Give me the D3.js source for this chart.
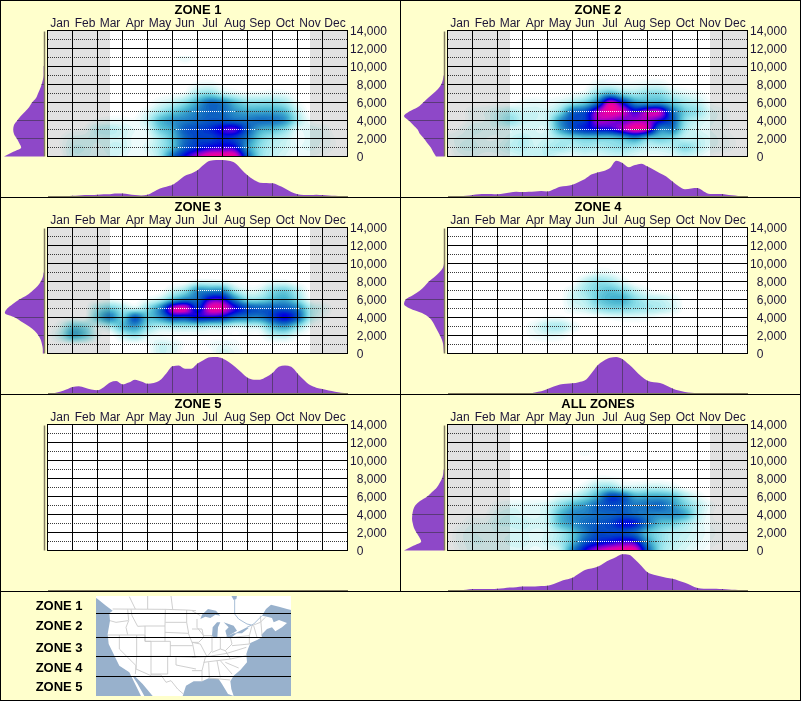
<!DOCTYPE html>
<html><head><meta charset="utf-8">
<script src="https://cdn.jsdelivr.net/npm/d3@7"></script>
<style>html,body{margin:0;padding:0;background:#FFFFCC}svg{display:block}text{font-family:"Liberation Sans",Arial,sans-serif}</style>
</head><body><svg id="c" width="801" height="701"></svg>
<script>
const months=["Jan","Feb","Mar","Apr","May","Jun","Jul","Aug","Sep","Oct","Nov","Dec"];
const elevTicks=[0,2000,4000,6000,8000,10000,12000,14000];
const dottedTicks=[1000,3000,5000,7000,9000,11000,13000];
const zoneNames=["ZONE 1","ZONE 2","ZONE 3","ZONE 4","ZONE 5"];
// Heat: rows bottom-up every 1000 ft; columns every half month (Jan 1 ... Dec end); intensity 0-100
const heatZ1=[
[0,0,7,7,4,6,5,2,4,15,50,72,88,100,100,98,55,20,10,6,2,2,1,0,0],
[0,1,8,8,5,8,8,3,6,15,30,55,65,72,75,72,40,20,12,8,4,5,3,1,0],
[0,1,5,6,7,8,7,3,4,15,30,50,60,60,65,60,45,25,15,10,3,5,4,1,0],
[0,0,1,2,10,12,8,4,6,25,35,55,60,65,75,78,55,35,30,20,5,6,4,0,0],
[0,0,0,0,2,3,3,2,10,30,40,45,50,55,55,50,48,50,48,40,15,2,0,0,0],
[0,0,0,0,0,0,0,0,5,15,25,35,45,52,50,40,35,35,35,30,10,0,0,0,0],
[0,0,0,0,0,0,0,0,0,5,10,20,35,50,45,30,20,20,20,15,3,0,0,0,0],
[0,0,0,0,0,0,0,0,0,0,1,3,15,20,10,5,3,3,4,3,0,0,0,0,0],
[0,0,0,0,0,0,0,0,0,0,0,0,3,4,1,0,0,0,0,0,0,0,0,0,0],
[0,0,0,0,0,0,0,0,0,0,0,0,0,0,0,0,0,0,0,0,0,0,0,0,0],
[0,0,0,0,0,0,0,0,0,0,0,0,0,0,0,0,0,0,0,0,0,0,0,0,0],
[0,0,0,0,0,0,0,0,0,0,0,4,0,0,0,0,0,0,0,0,0,0,0,0,0]];
const heatZ2=[
[0,3,4,3,3,5,8,8,10,5,4,6,5,7,8,5,3,3,5,8,5,1,0,0,0],
[0,6,7,5,6,10,12,8,12,15,12,15,13,16,18,15,10,10,12,20,12,5,3,1,0],
[3,5,6,4,4,8,12,7,9,15,20,25,25,25,30,40,25,25,20,10,10,6,3,1,0],
[0,2,6,6,5,6,6,6,8,35,55,65,70,72,85,97,88,45,45,15,7,4,2,0,0],
[0,0,3,4,10,18,10,8,10,40,58,62,85,85,80,85,85,72,55,20,10,5,3,0,0],
[0,0,3,4,8,12,8,8,8,20,50,58,85,98,92,75,88,88,50,25,18,6,3,0,0],
[0,0,0,0,0,0,3,4,3,7,15,25,48,92,68,40,35,35,25,15,10,2,0,0,0],
[0,0,0,0,0,0,0,0,0,0,2,5,20,32,20,15,20,20,10,5,3,0,0,0,0],
[0,0,0,0,0,0,0,0,0,0,0,0,5,5,3,3,5,5,1,0,0,0,0,0,0]];
const heatZ3=[
[0,0,0,0,0,0,0,0,0,8,6,0,0,0,8,4,0,0,0,0,0,0,0,0,0],
[0,0,0,0,0,0,0,0,1,8,6,1,0,2,4,2,0,0,0,0,0,0,0,0,0],
[0,10,35,25,4,0,10,18,6,2,1,1,1,1,1,1,1,1,10,12,3,0,0,0,0],
[0,5,25,20,5,13,30,39,20,12,15,15,15,12,12,6,8,10,30,38,20,3,0,0,0],
[0,0,0,1,25,45,25,55,30,40,60,60,70,70,65,50,45,45,60,72,55,15,3,0,0],
[0,0,0,0,15,25,15,8,20,45,90,95,65,95,95,75,60,55,55,55,45,15,6,0,0],
[0,0,0,0,0,2,0,0,3,10,30,45,50,75,75,45,20,20,30,35,20,2,0,0,0],
[0,0,0,0,0,0,0,0,0,0,8,18,41,42,41,15,5,7,20,25,12,0,0,0,0],
[0,0,0,0,0,0,0,0,0,0,0,0,5,5,4,1,0,0,3,3,0,0,0,0,0]];
const heatZ4=[
[0,0,0,0,0,0,0,0,0,0,0,0,0,0,0,0,0,0,0,0,0,0,0,0,0],
[0,0,0,0,0,0,0,0,0,0,0,0,0,0,0,0,0,0,0,0,0,0,0,0,0],
[0,0,0,0,0,0,0,3,5,4,0,0,0,0,0,0,0,0,0,0,0,0,0,0,0],
[0,0,0,0,0,0,0,5,12,13,5,0,0,0,0,0,0,0,0,0,0,0,0,0,0],
[0,0,0,0,0,0,0,0,2,2,0,0,1,3,4,4,3,1,0,0,0,0,0,0,0],
[0,0,0,0,0,0,0,0,0,0,5,8,16,22,22,18,15,12,7,0,0,0,0,0,0],
[0,0,0,0,0,0,0,0,0,0,8,12,25,32,33,20,12,10,5,0,0,0,0,0,0],
[0,0,0,0,0,0,0,0,0,0,6,15,23,28,22,10,3,0,0,0,0,0,0,0,0],
[0,0,0,0,0,0,0,0,0,0,0,10,18,15,6,0,0,0,0,0,0,0,0,0,0],
[0,0,0,0,0,0,0,0,0,0,0,0,4,3,0,0,0,0,0,0,0,0,0,0,0]];
const heatZ5=[];
const heatAll=[
[0,2,5,5,4,5,5,3,5,10,45,72,88,96,100,98,55,20,10,6,3,1,0,0,0],
[0,3,6,6,5,7,8,5,8,15,30,55,65,70,75,72,40,20,12,8,5,2,1,0,0],
[0,3,6,5,6,6,7,5,7,15,28,45,58,58,58,50,30,20,13,10,6,3,1,0,0],
[0,1,4,4,8,9,10,7,10,30,40,50,55,60,70,68,48,30,25,15,7,2,1,0,0],
[0,0,1,1,6,8,6,5,10,30,42,45,50,52,55,50,45,42,42,35,12,2,0,0,0],
[0,0,0,0,3,5,5,5,8,20,32,40,52,58,55,48,50,52,40,25,12,3,0,0,0],
[0,0,0,0,0,0,0,0,0,5,10,20,35,60,55,35,35,35,30,15,5,0,0,0,0],
[0,0,0,0,0,0,0,0,0,0,0,6,16,20,10,8,10,10,6,1,0,0,0,0,0],
[0,0,0,0,0,0,0,0,0,0,0,0,3,3,1,0,0,0,0,0,0,0,0,0,0],
[0,0,0,0,0,0,0,0,0,0,0,0,0,0,0,0,0,0,0,0,0,0,0,0,0],
[0,0,0,0,0,0,0,0,0,0,0,0,0,0,0,0,0,0,0,0,0,0,0,0,0],
[0,0,0,0,0,0,0,0,0,0,0,2,0,0,0,0,0,0,0,0,0,0,0,0,0]];
// Bottom marginals: every quarter month, % of full height
const monthZ1=[0,0,1,1,2,3,4,4,5,6,6,8,8,6,4,3,5,13,22,27,32,44,57,63,72,87,98,100,100,98,92,75,58,46,38,37,36,30,22,12,6,4,4,5,4,3,2,1,0];
const monthZ2=[0,0,1,2,4,6,7,7,6,8,11,13,12,13,14,15,14,20,27,29,32,40,48,60,66,70,78,98,92,80,86,90,82,73,64,55,41,28,20,22,23,14,7,7,7,4,3,1,1];
const monthZ3=[0,1,5,11,18,20,16,11,9,17,30,34,25,30,38,33,27,29,36,55,75,77,68,68,82,92,99,100,96,86,73,58,43,38,38,45,56,73,77,73,55,38,23,16,12,8,5,2,1];
const monthZ4=[0,0,0,0,0,0,0,0,0,0,0,0,0,0,3,6,12,19,25,27,28,31,36,55,77,90,98,100,94,80,64,47,35,31,29,22,14,8,4,2,1,0,0,0,0,0,0,0,0];
const monthZ5=[0,0,0,0,0,0,0,0,0,0,0,0,0,0,0,0,0,0,0,0,0,0,0,0,0,0,0,0,0,0,0,0,0,0,0,0,0,0,0,0,0,0,0,0,0,0,0,0,0];
const monthAll=[0,0,1,2,4,4,4,4,5,6,8,9,11,11,11,12,13,18,25,30,35,46,56,60,65,75,84,92,99,98,85,68,50,43,39,35,32,27,21,14,7,5,5,5,4,3,2,1,1];
// Left marginals: every 500 ft from 0, % of full width
const elevZ1=[100,78,57,62,68,75,77,75,67,58,47,37,30,20,15,10,6,3,1,1,1];
const elevZ2=[20,27,33,42,50,60,66,77,88,100,87,65,52,40,27,15,7,3,1];
const elevZ3=[3,3,5,8,14,23,37,55,72,98,92,78,62,42,28,16,8,3,1];
const elevZ4=[0,1,2,5,10,16,22,28,37,55,85,100,96,77,60,48,38,24,12,3,0];
const elevZ5=[0];
const elevAll=[100,78,57,62,69,75,78,80,79,77,72,60,42,30,18,11,5,2,1];
const colorStops=[0,3,7,12,20,30,40,50,60,70,80,90,100];
const colorRange=["#ffffff","#e6f9f9","#ccf3f4","#b0ecf0","#84dae6","#4fbad2","#2c90c8","#1068c0","#0040c8","#0000e0","#7000d8","#d000b8","#ff0090"];
// Map, units are thirds of a map pixel
const mapLand=[[0,12],[0,6],[585,6],[585,48],[573,45],[549,38],[525,32],[510,45],[498,65],[513,68],[528,72],[533,85],[549,78],[573,87],[558,100],[538,112],[528,100],[513,105],[496,122],[498,130],[483,138],[463,147],[456,165],[451,180],[453,205],[433,228],[413,245],[403,262],[406,285],[413,306],[396,300],[378,270],[368,255],[338,253],[318,262],[293,262],[270,275],[262,300],[260,306],[170,306],[140,270],[115,245],[112,250],[125,270],[145,306],[135,306],[100,235],[70,215],[60,195],[38,150],[35,120],[42,80],[40,58],[50,50],[30,35],[5,15]];
const lakes=[
[[25,75],[30,62],[48,45],[72,50],[85,65],[70,62],[55,72],[40,68]],
[[60,125],[62,100],[75,85],[85,85],[78,100],[76,130],[65,130]],
[[95,85],[125,95],[135,110],[105,128],[100,110],[110,100]],
[[100,130],[125,118],[135,118],[115,133]],
[[130,118],[165,100],[170,102],[150,118]],
[[118,5],[135,5],[133,15],[125,18]]];
const riversEast=[[[128,15],[128,60],[140,75],[165,90],[178,93]],[[165,100],[185,90],[210,65]]];
const bordersWest=[
[[50,45],[208,46],[272,48],[300,50]],[[100,8],[118,45]],[[155,6],[155,45]],[[225,6],[230,45]],
[[42,80],[60,85],[96,80]],[[95,46],[98,80],[90,100],[95,122]],[[36,123],[147,123]],[[70,123],[70,165],[120,215],[118,240]],
[[122,123],[122,187],[120,225],[165,245]],[[122,187],[165,187]],[[147,123],[147,142],[165,142]],[[105,46],[108,65],[125,97],[147,96],[207,96],[208,46]],
[[147,96],[147,142],[207,142],[207,96]],[[165,142],[165,243],[195,243],[210,265],[225,260],[245,285],[262,300]],[[207,142],[223,142],[223,187],[165,187]],
[[208,85],[272,85]],[[207,115],[277,118],[290,150],[297,187]],[[223,155],[290,155]],[[215,187],[300,190]],[[215,187],[215,240],[165,240]],[[240,190],[240,213],[300,225]],[[272,48],[272,85],[278,118]]];
const bordersEast=[
[[0,50],[25,65]],[[15,75],[15,100],[35,125]],[[0,105],[30,105],[35,130],[20,145],[0,145]],[[0,145],[25,150],[45,188],[0,190]],
[[35,125],[60,125],[60,170],[45,188]],[[60,130],[85,130],[85,165],[60,175]],[[85,130],[115,130],[120,150],[100,170],[85,165]],
[[45,188],[105,178],[100,170]],[[35,205],[115,195],[105,178]],[[40,190],[30,230],[0,230]],[[30,230],[30,262]],[[50,205],[52,252]],[[75,200],[85,250]],[[50,252],[115,258]],
[[85,200],[120,240]],[[115,195],[165,185]],[[100,205],[140,222]],[[105,178],[163,160]],[[120,130],[172,125],[172,150],[120,155]],[[172,125],[180,95],[205,85],[220,70]],[[185,95],[195,130]],[[205,65],[210,122]]];
const mapCuts=[613.3,637.7,656.7,676.7];
const legendBaselines=[610,630,652,672,691];

const panels=[
 {name:zoneNames[0],heat:heatZ1,month:monthZ1,elev:elevZ1,dx:0,dy:0,shade:true},
 {name:zoneNames[1],heat:heatZ2,month:monthZ2,elev:elevZ2,dx:400,dy:0,shade:true},
 {name:zoneNames[2],heat:heatZ3,month:monthZ3,elev:elevZ3,dx:0,dy:197,shade:true},
 {name:zoneNames[3],heat:heatZ4,month:monthZ4,elev:elevZ4,dx:400,dy:197,shade:false},
 {name:zoneNames[4],heat:heatZ5,month:monthZ5,elev:elevZ5,dx:0,dy:394,shade:false},
 {name:"ALL ZONES",heat:heatAll,month:monthAll,elev:elevAll,dx:400,dy:394,shade:true}];

const svg=d3.select("#c");
svg.append("rect").attr("width",801).attr("height",701).attr("fill","#FFFFCC");
const defs=svg.append("defs");
defs.append("filter").attr("id","soft").append("feGaussianBlur").attr("stdDeviation",0.35);
const x=d3.scaleLinear().domain([0,12]).range([47.5,347.5]);
const band=d3.scaleBand().domain(months).range([47.5,347.5]);
const y=d3.scaleLinear().domain([0,14000]).range([156.5,30.5]);
const color=d3.scaleLinear().domain(colorStops).range(colorRange);
const bottomH=d3.scaleLinear().domain([0,100]).range([196.5,160]);
const leftW=d3.scaleLinear().domain([0,100]).range([44,4]);
const UPX=5,UPY=3,COLS=25,ROWS=12;

function cr(a,b,c,d,f){return b+0.5*f*(c-a+f*(2*a-5*b+4*c-d+f*(3*(b-c)+d-a)));}
function upsample(rows){
  const get=(r,c)=>{const row=rows[Math.max(0,Math.min(ROWS-1,r))];if(!row)return 0;return row[Math.max(0,Math.min(COLS-1,c))];};
  const W=(COLS-1)*UPX+1,H=(ROWS-1)*UPY+1,out=new Array(W*H);
  for(let j=0;j<H;j++){const rr=(H-1-j)/UPY,r0=Math.floor(rr),fr=rr-r0;
    for(let i=0;i<W;i++){const cc=i/UPX,c0=Math.floor(cc),fc=cc-c0;
      const vs=[-1,0,1,2].map(k=>cr(get(r0+k,c0-1),get(r0+k,c0),get(r0+k,c0+1),get(r0+k,c0+2),fc));
      out[j*W+i]=Math.max(0,cr(vs[0],vs[1],vs[2],vs[3],fr));}}
  return {W,H,out};
}
const thresholds=[1].concat(d3.range(2,100.01,2));

panels.forEach((p,idx)=>{
  const g=svg.append("g").attr("transform",`translate(${p.dx},${p.dy})`);
  g.append("text").attr("x",198).attr("y",14).attr("text-anchor","middle").attr("font-size",13).attr("font-weight","bold").attr("fill","#000").text(p.name);
  g.append("rect").attr("x",x(0)).attr("y",y(14000)).attr("width",x(12)-x(0)).attr("height",y(0)-y(14000)).attr("fill","#fff");
  if(p.shade){
    [[0,2.5],[10.5,12]].forEach(s=>g.append("rect").attr("x",x(s[0])).attr("y",y(14000)).attr("width",x(s[1])-x(s[0])).attr("height",y(0)-y(14000)).attr("fill","#E2E2E2"));
  }
  const clipId="plot"+idx;
  defs.append("clipPath").attr("id",clipId).append("rect").attr("x",x(0)).attr("y",y(14000)).attr("width",x(12)-x(0)).attr("height",y(0)-y(14000));
  let whitePath=null;
  if(p.heat.length){
    const {W,H,out}=upsample(p.heat);
    const tf=d3.geoTransform({point(px,py){this.stream.point(x((px-0.5)/UPX*0.5),y((H-0.5-py)/UPY*1000));}});
    const path=d3.geoPath(tf);
    const cs=d3.contours().size([W,H]).thresholds(thresholds)(out);
    const hg=g.append("g").attr("clip-path",`url(#${clipId})`).style("mix-blend-mode","multiply");
    hg.selectAll("path").data(cs.filter(c=>c.coordinates.length)).join("path").attr("d",path).attr("fill",d=>color(d.value));
    const wc=d3.contours().size([W,H]).thresholds([40])(out)[0];
    if(wc&&wc.coordinates.length){whitePath=path(wc);defs.append("clipPath").attr("id","white"+idx).append("path").attr("d",whitePath);}
  }
  const grid=g.append("g").attr("shape-rendering","crispEdges");
  const pl=(v)=>Math.floor(y(v))+0.5;
  grid.selectAll(".dot").data(dottedTicks).join("line").attr("x1",x(0)).attr("x2",x(12)).attr("y1",pl).attr("y2",pl).attr("stroke","#3a3a3a").attr("stroke-dasharray","1 1");
  if(whitePath){
    const wg=g.append("g").attr("clip-path",`url(#white${idx})`).attr("shape-rendering","crispEdges");
    wg.selectAll("line").data(dottedTicks).join("line").attr("x1",x(0)).attr("x2",x(12)).attr("y1",pl).attr("y2",pl).attr("stroke","#fff").attr("stroke-dasharray","1 1");
  }
  const grid2=g.append("g").attr("shape-rendering","crispEdges");
  grid2.selectAll(".h").data(elevTicks).join("line").attr("x1",x(0)-.5).attr("x2",x(12)+.5).attr("y1",pl).attr("y2",pl).attr("stroke","#000");
  grid2.selectAll(".v").data(d3.range(0,13)).join("line").attr("x1",x).attr("x2",x).attr("y1",y(14000)).attr("y2",y(0)).attr("stroke","#000");
  const ax=g.append("g").attr("transform",`translate(0,${26.5})`).call(d3.axisTop(band).tickSize(0).tickPadding(0));
  ax.select(".domain").remove();
  ax.selectAll("text").attr("font-size",12).attr("font-family",null).attr("fill","#1c1438").attr("y",0).attr("dy",0);
  const ay=g.append("g").attr("transform","translate(386.8,0)").call(d3.axisRight(y).tickValues(elevTicks).tickFormat(d3.format(",")).tickSize(0).tickPadding(0));
  ay.select(".domain").remove();
  ay.selectAll("text").attr("font-size",12).attr("font-family",null).attr("fill","#1c1438").attr("text-anchor","end").attr("x",0).attr("dy","0.36em");
  ay.selectAll("text").filter(d=>d===0).attr("text-anchor","start").attr("x",-30);
  const mx=(d,i)=>x(i*0.25);
  const areaB=d3.area().x(mx).y0(bottomH(0)).y1(d=>bottomH(d)).curve(d3.curveMonotoneX);
  g.append("path").attr("d",areaB(p.month)).attr("fill","#8E48C8");
  const cb="cb"+idx;
  defs.append("clipPath").attr("id",cb).append("path").attr("d",areaB(p.month));
  g.append("g").attr("clip-path",`url(#${cb})`).attr("shape-rendering","crispEdges").selectAll("line").data(d3.range(1,12)).join("line").attr("x1",x).attr("x2",x).attr("y1",160).attr("y2",197).attr("stroke","#5a3a78");
  g.append("line").attr("x1",x(0)).attr("x2",x(12)).attr("y1",196.5).attr("y2",196.5).attr("stroke","#807a60").attr("stroke-width",1).attr("shape-rendering","crispEdges");
  const ey=(d,i)=>y(i*500);
  const areaL=d3.area().y(ey).x0(leftW(0)).x1(d=>leftW(d)).curve(d3.curveMonotoneY);
  g.append("path").attr("d",areaL(p.elev)).attr("fill","#8E48C8");
  const cl="cl"+idx;
  defs.append("clipPath").attr("id",cl).append("path").attr("d",areaL(p.elev));
  g.append("g").attr("clip-path",`url(#${cl})`).attr("shape-rendering","crispEdges").selectAll("line").data(elevTicks.slice(1,7)).join("line").attr("x1",0).attr("x2",44).attr("y1",pl).attr("y2",pl).attr("stroke","#5a3a78");
  g.append("line").attr("x1",44.5).attr("x2",44.5).attr("y1",y(14000)+1).attr("y2",y(0)).attr("stroke","#807a60").attr("stroke-width",1.5);
});

const frame=svg.append("g").attr("shape-rendering","crispEdges").attr("stroke","#000");
[0,197,394,591,700].forEach(v=>frame.append("line").attr("x1",0).attr("x2",801).attr("y1",v+.5).attr("y2",v+.5));
[0,800].forEach(v=>frame.append("line").attr("x1",v+.5).attr("x2",v+.5).attr("y1",0).attr("y2",701));
frame.append("line").attr("x1",400.5).attr("x2",400.5).attr("y1",0).attr("y2",591);

zoneNames.forEach((n,i)=>svg.append("text").attr("x",82.6).attr("y",legendBaselines[i]).attr("text-anchor","end").attr("font-size",13).attr("font-weight","bold").attr("fill","#000").text(n));
const mx=d3.scaleLinear().domain([0,3]).range([96,97]);
const my=d3.scaleLinear().domain([0,3]).range([594,595]);
const mxE=d3.scaleLinear().domain([0,3]).range([192,193]);
const lineW=d3.line().x(d=>mx(d[0])).y(d=>my(d[1]));
const lineE=d3.line().x(d=>mxE(d[0])).y(d=>my(d[1]));
defs.append("clipPath").attr("id","mapclip").append("rect").attr("x",96).attr("y",596).attr("width",195).attr("height",100);
const mc=svg.append("g").attr("clip-path","url(#mapclip)");
const mg=mc.append("g").attr("filter","url(#soft)");
mg.append("rect").attr("x",90).attr("y",590).attr("width",207).attr("height",112).attr("fill","#98B1CC");
mg.append("path").attr("d",lineW(mapLand)+"Z").attr("fill","#fff");
mg.selectAll(".bw").data(bordersWest).join("path").attr("d",lineW).attr("fill","none").attr("stroke","#c9c9c9").attr("stroke-width",0.9);
mg.selectAll(".be").data(bordersEast).join("path").attr("d",lineE).attr("fill","none").attr("stroke","#c9c9c9").attr("stroke-width",0.9);
mg.selectAll(".lk").data(lakes).join("path").attr("d",d=>lineE(d)+"Z").attr("fill","#98B1CC");
mg.selectAll(".rv").data(riversEast).join("path").attr("d",lineE).attr("fill","none").attr("stroke","#a8bed6").attr("stroke-width",1);
mc.selectAll(".ct").data(mapCuts).join("line").attr("x1",96).attr("x2",291).attr("y1",d=>d).attr("y2",d=>d).attr("stroke","#000").attr("stroke-width",1).attr("shape-rendering","crispEdges");
</script></body></html>
